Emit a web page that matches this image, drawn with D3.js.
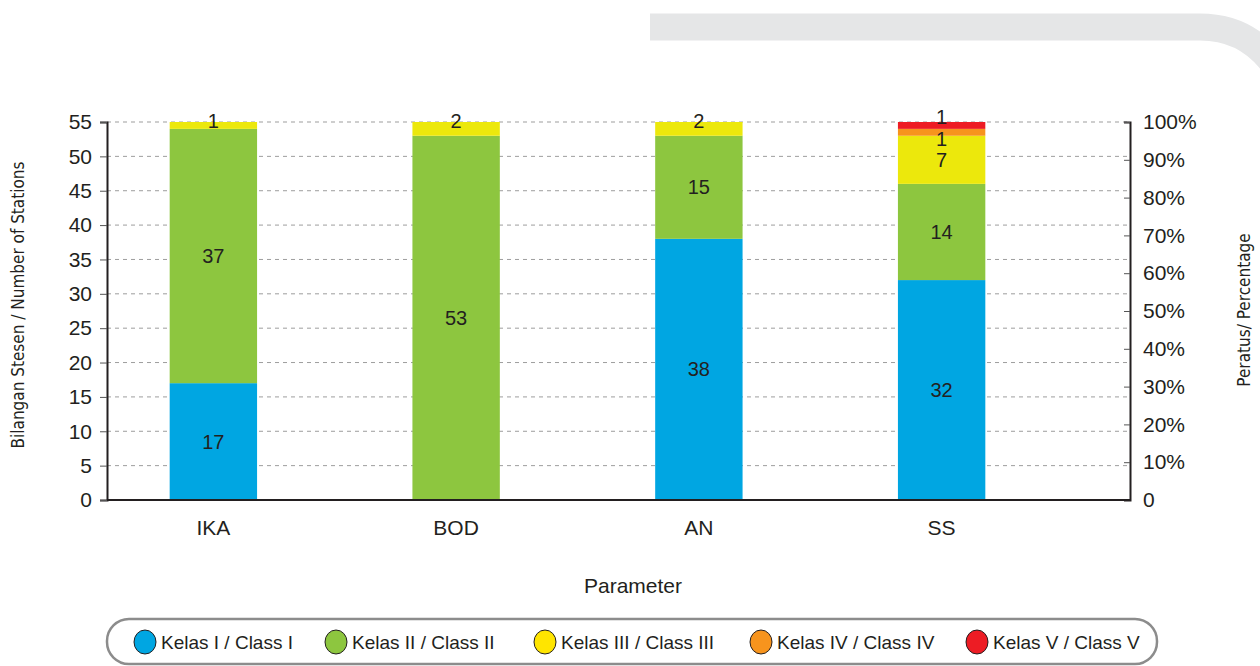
<!DOCTYPE html>
<html>
<head>
<meta charset="utf-8">
<script src="https://cdn.jsdelivr.net/npm/d3@7"></script>
<style>
  body { margin: 0; background: #fff; }
  svg { display: block; }
  text { font-family: "Liberation Sans", Arial, sans-serif; fill: #231f20; }
  .cond { font-family: "Liberation Sans Narrow", "DejaVu Sans Condensed", sans-serif; }
</style>
</head>
<body>
<div id="chart"></div>
<script>
// data
var categories = ["IKA", "BOD", "AN", "SS"];
var classI   = [17, 0, 38, 32];
var classII  = [37, 53, 15, 14];
var classIII = [1, 2, 2, 7];
var classIV  = [0, 0, 0, 1];
var classV   = [0, 0, 0, 1];
var seriesNames = ["Kelas I / Class I", "Kelas II / Class II", "Kelas III / Class III", "Kelas IV / Class IV", "Kelas V / Class V"];
var seriesColors = ["#00a6e2", "#8dc63f", "#ece80c", "#f7941d", "#ed1c24"];
var legendColors = ["#00a6e2", "#8dc63f", "#ffe500", "#f7941d", "#ed1c24"];
var countTicks = d3.range(0, 56, 5);
var pctTicks = d3.range(0, 101, 10);

var W = 1260, H = 666;
var plotLeft = 107, plotRight = 1130, plotTop = 122, plotBottom = 500;

var svg = d3.select("#chart").append("svg")
    .attr("width", W)
    .attr("height", H);

// decorative grey band at top right
svg.append("path")
    .attr("d", "M650,27 L1200,27 Q1245,27 1272,62")
    .attr("fill", "none")
    .attr("stroke", "#e5e6e7")
    .attr("stroke-width", 27);

var rows = categories.map(function(c, i) {
  return {cat: c, s0: classI[i], s1: classII[i], s2: classIII[i], s3: classIV[i], s4: classV[i]};
});
var keys = ["s0", "s1", "s2", "s3", "s4"];
var stacked = d3.stack().keys(keys)(rows);

var x = d3.scaleBand()
    .domain(categories)
    .range([92, 1063])
    .paddingInner(0.64)
    .paddingOuter(0.32);

var y = d3.scaleLinear().domain([0, 55]).range([plotBottom, plotTop]);
var yp = d3.scaleLinear().domain([0, 100]).range([plotBottom, plotTop]);

// grid lines
svg.append("g")
  .selectAll("line")
  .data(countTicks.filter(function(d) { return d > 0; }))
  .join("line")
    .attr("x1", plotLeft).attr("x2", plotRight)
    .attr("y1", function(d) { return y(d); })
    .attr("y2", function(d) { return y(d); })
    .attr("stroke", "#9d9d9d")
    .attr("stroke-width", 1)
    .attr("stroke-dasharray", "4,4");

// bars
var groups = svg.append("g")
  .selectAll("g")
  .data(stacked)
  .join("g")
    .attr("fill", function(d, i) { return seriesColors[i]; });

groups.selectAll("rect")
  .data(function(d) { return d; })
  .join("rect")
    .attr("x", function(d) { return x(d.data.cat); })
    .attr("width", x.bandwidth())
    .attr("y", function(d) { return y(d[1]); })
    .attr("height", function(d) { return y(d[0]) - y(d[1]); });

// value labels
var labels = [];
stacked.forEach(function(layer, li) {
  layer.forEach(function(d, ci) {
    var v = d[1] - d[0];
    if (v <= 0) return;
    var above = stacked[li + 1] ? (stacked[li + 1][ci][1] - stacked[li + 1][ci][0]) : 0;
    var ly;
    if (v >= 3) ly = (y(d[0]) + y(d[1])) / 2;
    else if (above > 0 && above < 3) ly = y(d[0]) + 3;
    else ly = y(d[1]) - (li === 4 ? 5 : 1);
    labels.push({cat: d.data.cat, v: v, y: ly});
  });
});
svg.append("g")
  .selectAll("text")
  .data(labels)
  .join("text")
    .attr("x", function(d) { return x(d.cat) + x.bandwidth() / 2; })
    .attr("y", function(d) { return d.y; })
    .attr("dy", "0.35em")
    .attr("text-anchor", "middle")
    .attr("font-size", 20)
    .text(function(d) { return d.v; });

// left axis
var gl = svg.append("g")
    .attr("transform", "translate(" + plotLeft + ",0)")
    .call(d3.axisLeft(y).tickValues(countTicks).tickSize(7).tickPadding(8));
gl.select(".domain").attr("stroke", "#231f20").attr("stroke-width", 2);
gl.selectAll(".tick line").attr("stroke", "#555");
gl.selectAll(".tick text").attr("font-size", 21).attr("font-family", "Liberation Sans, Arial, sans-serif").attr("fill", "#231f20");

// right axis
var gr = svg.append("g")
    .attr("transform", "translate(" + plotRight + ",0)")
    .call(d3.axisRight(yp).tickValues(pctTicks).tickSize(-6).tickPadding(13)
      .tickFormat(function(d) { return d === 0 ? "0" : d + "%"; }));
gr.select(".domain").attr("stroke", "#231f20").attr("stroke-width", 2);
gr.selectAll(".tick line").attr("stroke", "#555");
gr.selectAll(".tick text").attr("font-size", 21).attr("font-family", "Liberation Sans, Arial, sans-serif").attr("fill", "#231f20");

// baseline
svg.append("line")
    .attr("x1", plotLeft).attr("x2", plotRight)
    .attr("y1", plotBottom).attr("y2", plotBottom)
    .attr("stroke", "#231f20")
    .attr("stroke-width", 2);

// category labels
svg.append("g")
  .selectAll("text")
  .data(categories)
  .join("text")
    .attr("x", function(d) { return x(d) + x.bandwidth() / 2; })
    .attr("y", 535)
    .attr("text-anchor", "middle")
    .attr("font-size", 21)
    .text(function(d) { return d; });

svg.append("text")
    .attr("x", 633).attr("y", 593)
    .attr("text-anchor", "middle")
    .attr("font-size", 21)
    .text("Parameter");

svg.append("text")
    .attr("class", "cond")
    .attr("transform", "translate(24,305) rotate(-90)")
    .attr("text-anchor", "middle")
    .attr("font-size", 17)
    .text("Bilangan Stesen / Number of Stations");

svg.append("text")
    .attr("class", "cond")
    .attr("transform", "translate(1250,310) rotate(-90)")
    .attr("text-anchor", "middle")
    .attr("font-size", 17)
    .text("Peratus/ Percentage");

// legend
svg.append("rect")
    .attr("x", 107).attr("y", 619)
    .attr("width", 1050).attr("height", 45)
    .attr("rx", 22).attr("ry", 22)
    .attr("fill", "#fff")
    .attr("stroke", "#8c8c8c")
    .attr("stroke-width", 2.5);

var legendX = [145, 336, 545, 761, 977];
var lg = svg.append("g")
  .selectAll("g")
  .data(seriesNames)
  .join("g")
    .attr("transform", function(d, i) { return "translate(" + legendX[i] + ",642)"; });
lg.append("ellipse")
    .attr("rx", 11).attr("ry", 12)
    .attr("fill", function(d, i) { return legendColors[i]; })
    .attr("stroke", "#231f20")
    .attr("stroke-width", 1);
lg.append("text")
    .attr("x", 16)
    .attr("dy", "0.35em")
    .attr("font-size", 19)
    .text(function(d) { return d; });
</script>
</body>
</html>
